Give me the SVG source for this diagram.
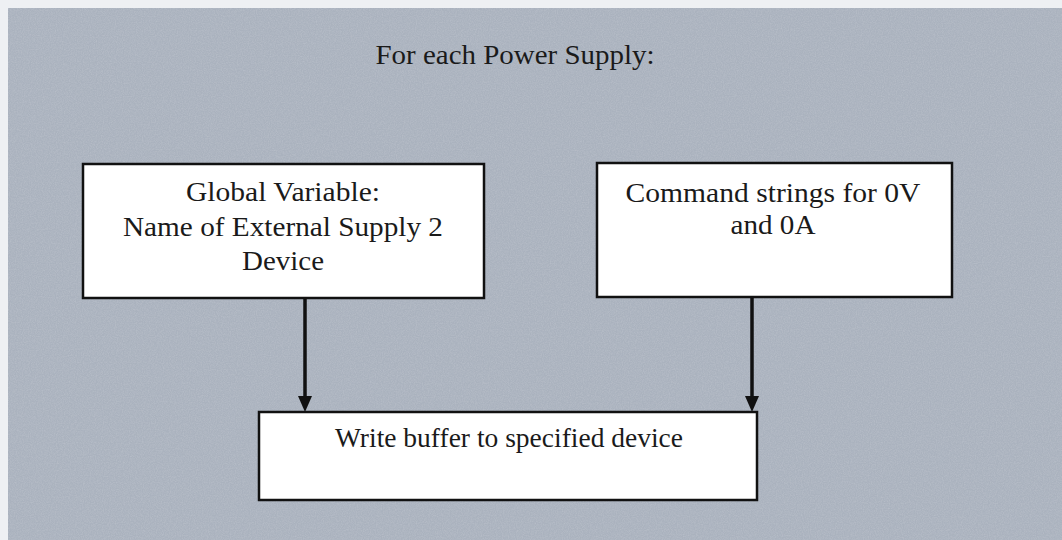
<svg xmlns="http://www.w3.org/2000/svg" width="1062" height="540" viewBox="0 0 1062 540">
  <defs>
    <style>
      .box { fill: #ffffff; stroke: #111111; stroke-width: 2.5; }
      .lbl { font-family: "Liberation Serif", "Times New Roman", serif; font-size: 27px; fill: #1a1a1a; text-anchor: middle; }
      .wire { stroke: #111111; stroke-width: 3.5; fill: none; }
    </style>
    <!-- solid triangular arrowhead; its base sits on the wire end and the tip runs on past it -->
    <marker id="head" viewBox="0 0 16 14" refX="0" refY="7" markerWidth="16" markerHeight="14" markerUnits="userSpaceOnUse" orient="auto" overflow="visible">
      <path d="M0,0 L16,7 L0,14 Z" fill="#111111"/>
    </marker>
    <filter id="grain" x="0" y="0" width="100%" height="100%">
      <feTurbulence type="fractalNoise" baseFrequency="0.85" numOctaves="2" seed="4" result="n"/>
      <feColorMatrix type="matrix" values="0 0 0 0 0.55  0 0 0 0 0.58  0 0 0 0 0.64  0 0 0 1.4 -0.45"/>
    </filter>
  </defs>

  <!-- page margin and textured panel -->
  <rect x="0" y="0" width="1062" height="540" fill="#eef0f3"/>
  <rect x="8" y="8" width="1054" height="532" fill="#aab2be"/>
  <rect x="8" y="8" width="1054" height="532" filter="url(#grain)" opacity="0.6"/>

  <text class="lbl" x="515" y="64" textLength="279" lengthAdjust="spacingAndGlyphs">For each Power Supply:</text>

  <g id="connectors">
    <line class="wire" x1="305" y1="298" x2="305" y2="396" marker-end="url(#head)"/>
    <line class="wire" x1="752" y1="297" x2="752" y2="396" marker-end="url(#head)"/>
  </g>

  <g id="global-variable">
    <rect class="box" x="83" y="164" width="401" height="134"/>
    <text class="lbl" x="283" y="201" textLength="194" lengthAdjust="spacingAndGlyphs">Global Variable:</text>
    <text class="lbl" x="283" y="236" textLength="320" lengthAdjust="spacingAndGlyphs">Name of External Supply 2</text>
    <text class="lbl" x="283" y="270" textLength="82" lengthAdjust="spacingAndGlyphs">Device</text>
  </g>

  <g id="command-strings">
    <rect class="box" x="597" y="163" width="355" height="134"/>
    <text class="lbl" x="773" y="202" textLength="295" lengthAdjust="spacingAndGlyphs">Command strings for 0V</text>
    <text class="lbl" x="773" y="234" textLength="85" lengthAdjust="spacingAndGlyphs">and 0A</text>
  </g>

  <g id="write-buffer">
    <rect class="box" x="259" y="412" width="498" height="88"/>
    <text class="lbl" x="509" y="447" textLength="348" lengthAdjust="spacingAndGlyphs">Write buffer to specified device</text>
  </g>
</svg>
